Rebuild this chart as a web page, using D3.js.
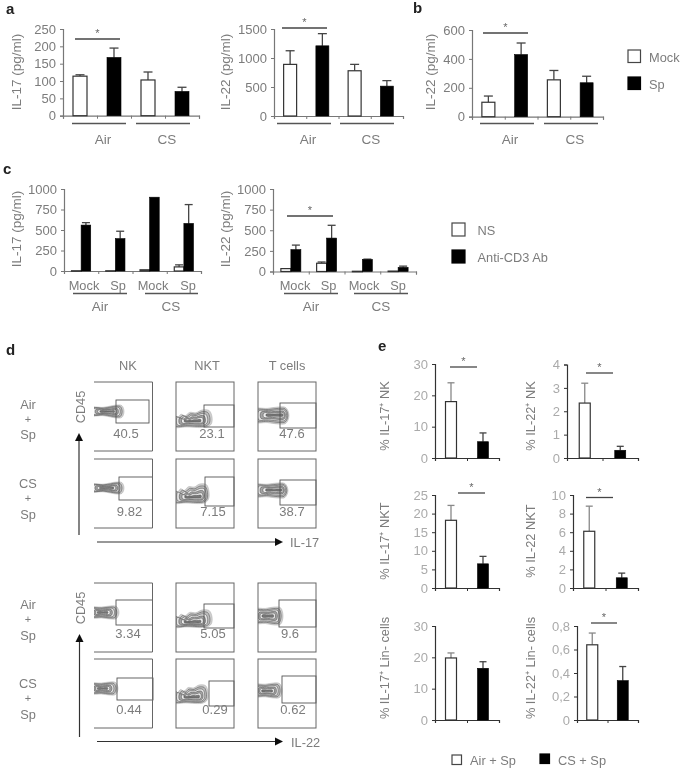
<!DOCTYPE html>
<html><head><meta charset="utf-8">
<script src="https://cdn.jsdelivr.net/npm/d3@7"></script>
<style>
html,body{margin:0;padding:0;background:#fff}
svg{display:block}
text{font-family:"Liberation Sans",Arial,sans-serif;fill:#7c7c7c}
</style></head><body>
<svg id="c" width="681" height="768"></svg>
<script>
// ---------- values ----------
const stimGroups = ["Air Mock","Air Sp","CS Mock","CS Sp"];
const a1Values = [114,168,103,70];
const a1Errors = [118,195,126,82];
const a2Values = [890,1210,780,515];
const a2Errors = [1125,1420,890,610];
const bValues = [100,430,255,235];
const bErrors = [143,510,320,280];
const c1Ns = [3,3,15,50];
const c1NsErr = [3,3,15,75];
const c1Cd3 = [560,395,900,580];
const c1Cd3Err = [590,485,900,810];
const c2Ns = [35,100,3,5];
const c2NsErr = [35,115,3,5];
const c2Cd3 = [265,405,145,50];
const c2Cd3Err = [320,560,150,65];
const eGroups = ["Air + Sp","CS + Sp"];
const e1Values = [18,5.2],  e1Errors = [24,8];
const e2Values = [2.35,0.33], e2Errors = [3.2,0.5];
const e3Values = [18.2,6.5], e3Errors = [22.2,8.5];
const e4Values = [6.1,1.1], e4Errors = [8.8,1.6];
const e5Values = [19.8,16.5], e5Errors = [21.4,18.6];
const e6Values = [0.64,0.335], e6Errors = [0.74,0.455];
const il17Gates = ["40.5","23.1","47.6","9.82","7.15","38.7"];
const il22Gates = ["3.34","5.05","9.6","0.44","0.29","0.62"];
const cellTypes = ["NK","NKT","T cells"];

// ---------- helpers ----------
const svg = d3.select("#c");
const root = svg.append("g");
svg.append("defs").append("filter").attr("id","soft").attr("x","-2%").attr("y","-2%").attr("width","104%").attr("height","104%")
  .append("feGaussianBlur").attr("stdDeviation",0.4);
root.attr("filter","url(#soft)");

function label(x,y,t,o={}){
  const s = root.append("text").attr("x",x).attr("y",y).text(t)
    .attr("text-anchor",o.anchor||"middle").style("font-size",(o.size||12.8)+"px");
  if(o.rot) s.attr("transform",`rotate(-90 ${x} ${y})`);
  if(o.color) s.style("fill",o.color);
  if(o.bold) s.style("font-weight","bold");
  return s;
}
function seg(x1,y1,x2,y2,c="#555",w=1.3){
  root.append("line").attr("x1",x1).attr("y1",y1).attr("x2",x2).attr("y2",y2).attr("stroke",c).attr("stroke-width",w);
}
function sig(x1,x2,y){ seg(x1,y,x2,y,"#444",1.3); label((x1+x2)/2,y-2,"*",{size:11,color:"#666"}); }

function chart(o){
  const n = o.cats.length;
  const x = d3.scaleBand().domain(o.cats).range([o.x0,o.x1]);
  const xt = d3.scaleLinear().domain([0,n]).range([o.x0,o.x1]);
  const y = d3.scaleLinear().domain([0,o.ticks[o.ticks.length-1]]).range([o.y0,o.yTop]);
  const g = root.append("g");
  const ac = o.axis||"#777";
  const yAx = g.append("g").attr("transform",`translate(${o.x0},0)`)
    .call(d3.axisLeft(y).tickValues(o.ticks).tickSize(3).tickPadding(4).tickFormat(o.fmt||d3.format("d")));
  const xAx = g.append("g").attr("transform",`translate(0,${o.y0})`)
    .call(d3.axisBottom(xt).ticks(n).tickValues(d3.range(0,n+1)).tickSize(3).tickFormat(""));
  [yAx,xAx].forEach(a=>{
    a.selectAll("path").attr("stroke",ac).attr("stroke-width",1.2);
    a.selectAll("line").attr("stroke",ac).attr("stroke-width",1);
    a.selectAll("text").style("fill",o.tick||"#7c7c7c").style("font-size",(o.tickSize||13)+"px");
  });
  (o.series).forEach((s,si)=>{
    const bw = o.bw, off = o.series.length===2 ? (si===0?-bw:0) : 0;
    o.cats.forEach((c,i)=>{
      const fill = o.series.length===2 ? (si===0?"#fff":"#000") : (o.fills?o.fills[i]:"#fff");
      const cx = x(c)+x.bandwidth()/2 + off + (o.series.length===2?bw/2:0);
      const v = s.v[i], e = s.e[i];
      if(e>v){
        g.append("line").attr("x1",cx).attr("x2",cx).attr("y1",y(v)).attr("y2",y(e)).attr("stroke",o.whisk&&fill==="#fff"?o.whisk:"#444").attr("stroke-width",1.3);
        g.append("line").attr("x1",cx-o.cap).attr("x2",cx+o.cap).attr("y1",y(e)).attr("y2",y(e)).attr("stroke",o.whisk&&fill==="#fff"?o.whisk:"#444").attr("stroke-width",1.3);
      }
      g.append("rect").attr("x",cx-bw/2).attr("y",y(v)).attr("width",bw).attr("height",Math.max(0.5,y(0)-y(v)))
        .attr("fill",fill).attr("stroke",fill==="#fff"?"#333":"#000").attr("stroke-width",fill==="#fff"?1.2:0.6);
    });
  });
}
const mockSp = ["#fff","#000","#fff","#000"];
const t250 = [0,50,100,150,200,250], t1500=[0,500,1000,1500], t600=[0,200,400,600], t1000=[0,250,500,750,1000];

// ---------- panels a, b ----------
chart({cats:stimGroups,x0:63,x1:199,y0:115.7,yTop:29,ticks:t250,bw:14,cap:4.5,fills:mockSp,series:[{v:a1Values,e:a1Errors}]});
chart({cats:stimGroups,x0:274,x1:403,y0:116,yTop:29,ticks:t1500,bw:13,cap:4.5,fills:mockSp,series:[{v:a2Values,e:a2Errors}]});
chart({cats:stimGroups,x0:472,x1:603,y0:116.7,yTop:30,ticks:t600,bw:13,cap:4.5,fills:mockSp,series:[{v:bValues,e:bErrors}]});
label(21,72,"IL-17 (pg/ml)",{rot:1,size:13.5}); label(229.5,72,"IL-22 (pg/ml)",{rot:1,size:13.5}); label(435,72,"IL-22 (pg/ml)",{rot:1,size:13.5});
[[72,126,103],[136,190,167],[277,331,308],[340,394,371],[480,534,510],[544,598,575]].forEach((g,i)=>{
  seg(g[0],123.5,g[1],123.5,"#555",1.3); label(g[2],144,i%2?"CS":"Air",{size:13.5});
});
sig(75,120,39); sig(282,327,28); sig(483,528,33);
function legend(x,y,s,t,tx,ty,fill){
  root.append("rect").attr("x",x).attr("y",y).attr("width",s).attr("height",s).attr("fill",fill).attr("stroke",fill==="#000"?"#000":"#444").attr("stroke-width",1.2);
  label(tx,ty,t,{anchor:"start"});
}
legend(628,50,12.5,"Mock",649,62,"#fff"); legend(628,77,12.5,"Sp",649,89,"#000");

// ---------- panel c ----------
chart({cats:stimGroups,x0:64,x1:201,y0:271,yTop:189,ticks:t1000,bw:9.6,cap:4,series:[{v:c1Ns,e:c1NsErr},{v:c1Cd3,e:c1Cd3Err}]});
chart({cats:stimGroups,x0:273,x1:416,y0:271.5,yTop:189,ticks:t1000,bw:10,cap:4,series:[{v:c2Ns,e:c2NsErr},{v:c2Cd3,e:c2Cd3Err}]});
label(21,229,"IL-17 (pg/ml)",{rot:1,size:13.5}); label(229.5,229,"IL-22 (pg/ml)",{rot:1,size:13.5});
[[84,118,73,127,100,145,198,171],[295,328.5,284,338,311,354,408,381]].forEach(p=>{
  const cx = p[0]===84?[153,188]:[364,398];
  label(p[0],290,"Mock"); label(p[1],290,"Sp"); label(cx[0],290,"Mock"); label(cx[1],290,"Sp");
  seg(p[2],293.5,p[3],293.5); seg(p[5],293.5,p[6],293.5);
  label(p[4],311,"Air",{size:13.5}); label(p[7],311,"CS",{size:13.5});
});
sig(287,333,216);
legend(452,223,13,"NS",477.5,234.5,"#fff"); legend(452,250,13,"Anti-CD3 Ab",477.5,262,"#000");

// ---------- panel d (flow plots) ----------
const teardrop = [[-.15,.2],[.3,.18],[.55,.08],[.75,.0],[.93,.05],[1,.5],[.93,.95],[.75,1],[.55,.92],[.3,.82],[-.15,.8]];
const nktShape = [[-.1,.3],[.05,.42],[.14,.25],[.25,.34],[.38,.14],[.55,.16],[.72,.0],[.92,.03],[1,.4],[.98,.82],[.85,1],[.3,1],[-.1,.98]];
const wideShape = [[-.15,.12],[.3,.08],[.65,.0],[.9,.04],[1,.5],[.9,.96],[.65,1],[.3,.92],[-.15,.88]];
const ringShades = ["#cfcfcf","#bdbdbd","#e4e4e4","#a5a5a5","#eeeeee","#777"];
const closed = d3.line().curve(d3.curveCatmullRomClosed.alpha(0.5));
function blob(shape,x0,x1,y0,y1,fx,fy,clipX){
  const pts = shape.map(p=>[x0+p[0]*(x1-x0),y0+p[1]*(y1-y0)]);
  ringShades.forEach((f,i)=>{
    const k = 1-i*0.17, kLeft = 1-i*0.09;
    const q = pts.map(p=>[fx+(p[0]-fx)*(p[0]<fx?kLeft:k),fy+(p[1]-fy)*k]);
    root.append("path").attr("d",closed(q)).attr("fill",f).attr("stroke",i===0?"#aaa":"#555").attr("stroke-width",i===0?.5:.6).attr("clip-path",`url(#${clipX})`);
  });
}
let clipN=0;
function flowPanel(b,g,val,vx,vy,openLeft,bl){
  const id="clip"+(clipN++);
  svg.select("defs").append("clipPath").attr("id",id).append("rect").attr("x",b[0]).attr("y",b[2]).attr("width",b[1]-b[0]).attr("height",b[3]-b[2]);
  blob(bl[0],bl[1],bl[2],bl[3],bl[4],bl[5],bl[6],id);
  root.append("rect").attr("x",g[0]).attr("y",g[2]).attr("width",g[1]-g[0]).attr("height",g[3]-g[2]).attr("fill","none").attr("stroke","#555").attr("stroke-width",.9);
  if(openLeft){
    root.append("path").attr("d",`M${b[0]},${b[2]}H${b[1]}V${b[3]}H${b[0]}`).attr("fill","none").attr("stroke","#666").attr("stroke-width",1);
  } else {
    root.append("rect").attr("x",b[0]).attr("y",b[2]).attr("width",b[1]-b[0]).attr("height",b[3]-b[2]).attr("fill","none").attr("stroke","#666").attr("stroke-width",1);
  }
  label(vx,vy,val,{size:13});
}
const cols = [[94,152.5],[176,234],[258,316]];
const r = [[382,451],[459,528],[583,652],[659,728]];
const gates = [
 [[116,149,400,423],[204,234,405,427],[280,316,403,428]],
 [[119,152.5,477,500],[205,234,477,506],[280,316,480,505]],
 [[116,152.5,600,625],[204,234,604,628],[279,316,600,627]],
 [[117,153,678,700],[209,234,681,706],[282,316,676,703]]];
const vPos = [[126,212,292],[129.5,213,292],[128,213,290],[129,215,293]];
const vY = [438,516,638,714];
const blobs = [
 [[teardrop,94,124,405,418,113,411.5],[nktShape,176,212,410,427,199,421],[wideShape,258,289,407,424,282,415]],
 [[teardrop,94,124,482,494,112,488],[nktShape,176,209,484,503,200,497],[wideShape,258,288,483,498,281,490]],
 [[wideShape,94,119,606,619,106,612.5],[nktShape,176,212,610,627,199,622],[wideShape,258,283,607,625,272,616]],
 [[wideShape,94,118,682,695,106,688.5],[nktShape,176,208,685,703,198,697],[wideShape,258,282,683,698,271,691]]];
const allVals = il17Gates.concat(il22Gates);
r.forEach((ry,ri)=>cols.forEach((cx,ci)=>{
  flowPanel([cx[0],cx[1],ry[0],ry[1]],gates[ri][ci],allVals[ri*3+ci],vPos[ri][ci],vY[ri],ci===0,blobs[ri][ci]);
}));
[128,207,287].forEach((x,i)=>label(x,369.5,cellTypes[i]));
[[28,409,"Air","+","Sp",423,439],[28,488,"CS","+","Sp",502,519],[28,609,"Air","+","Sp",623,640],[28,688,"CS","+","Sp",702,719]].forEach(a=>{
  label(a[0],a[1],a[2]); label(a[0],a[5],a[3],{size:11}); label(a[0],a[6],a[4]);
});
label(85,407,"CD45",{rot:1}); label(85,608,"CD45",{rot:1});
function arrow(x1,y1,x2,y2){
  seg(x1,y1,x2,y2,"#333",1.2);
  const p = y1===y2 ? `M${x2+8},${y2}L${x2},${y2-4}V${y2+4}Z` : `M${x2},${y2-8}L${x2-4},${y2}H${x2+4}Z`;
  root.append("path").attr("d",p).attr("fill","#111");
}
arrow(79,535,79,441); arrow(97,542,275,542); arrow(79.5,737,79.5,642); arrow(97,741.5,275,741.5);
label(290,547,"IL-17",{anchor:"start"}); label(291,747,"IL-22",{anchor:"start"});

// ---------- panel e ----------
const eOpts = {cats:eGroups,bw:11,cap:3.5,axis:"#333",tick:"#aaa",tickSize:13,fills:["#fff","#000"],whisk:"#888"};
chart({...eOpts,x0:435,x1:499,y0:458,yTop:364,ticks:[0,10,20,30],series:[{v:e1Values,e:e1Errors}]});
chart({...eOpts,x0:567,x1:638,y0:458,yTop:364.5,ticks:[0,1,2,3,4],series:[{v:e2Values,e:e2Errors}]});
chart({...eOpts,x0:435,x1:499,y0:588,yTop:495,ticks:[0,5,10,15,20,25],series:[{v:e3Values,e:e3Errors}]});
chart({...eOpts,x0:573,x1:638,y0:588,yTop:495,ticks:[0,2,4,6,8,10],series:[{v:e4Values,e:e4Errors}]});
chart({...eOpts,x0:435,x1:499,y0:720,yTop:626,ticks:[0,10,20,30],series:[{v:e5Values,e:e5Errors}]});
chart({...eOpts,x0:577,x1:638,y0:720,yTop:626,ticks:[0,0.2,0.4,0.6,0.8],fmt:d=>d===0?"0":String(d).replace(".",","),series:[{v:e6Values,e:e6Errors}]});
label(389,416,"% IL-17⁺ NK",{rot:1}); label(535,416,"% IL-22⁺ NK",{rot:1});
label(389,541,"% IL-17⁺ NKT",{rot:1}); label(535,541,"% IL-22 NKT",{rot:1});
label(389,668,"% IL-17⁺ Lin- cells",{rot:1}); label(535,668,"% IL-22⁺ Lin- cells",{rot:1});
sig(450,477,367); sig(586,613,373); sig(458,485,493); sig(586,613,497.5); sig(591,617,623);
legend(452,755,9.5,eGroups[0],470,764.5,"#fff"); legend(540,754,9.5,eGroups[1],558,764.5,"#000");

// ---------- panel letters ----------
[["a",6,14],["b",413,13],["c",3,174],["d",6,355],["e",378,351]].forEach(l=>label(l[1],l[2],l[0],{anchor:"start",size:15,color:"#222",bold:true}));
</script>
</body></html>
